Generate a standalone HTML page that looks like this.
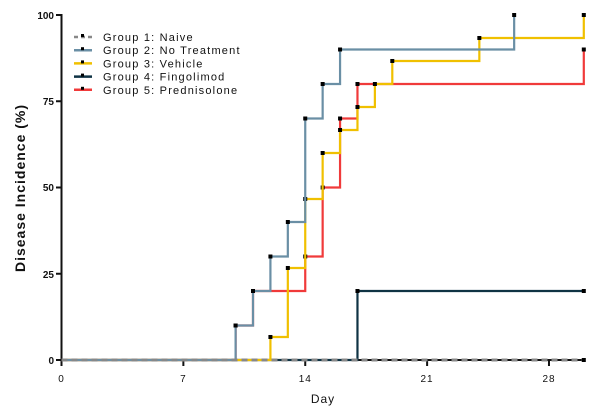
<!DOCTYPE html>
<html><head><meta charset="utf-8"><style>body{margin:0;background:#fff}svg{display:block}text{font-family:"Liberation Sans",Arial,sans-serif}</style></head><body>
<svg id="s" width="600" height="412" xmlns="http://www.w3.org/2000/svg">
<g id="axes" stroke="#111" stroke-width="2" fill="none">
<line x1="61.5" y1="14" x2="61.5" y2="361"/>
<line x1="60.5" y1="360" x2="585" y2="360"/>
</g>
<g id="ticks" stroke="#111" stroke-width="2"></g>
<g font-size="10" font-weight="bold" fill="#111" text-anchor="end">
<text x="54" y="364">0</text><text x="54" y="278">25</text><text x="54" y="191">50</text><text x="54" y="105">75</text><text x="54" y="19">100</text>
</g>
<g font-size="10" fill="#111" text-anchor="middle" letter-spacing="1">
<text x="61.5" y="382">0</text><text x="183.4" y="382">7</text><text x="305.3" y="382">14</text><text x="427" y="382">21</text><text x="549" y="382">28</text>
<text x="323" y="403" font-size="12">Day</text>
</g>
<text transform="translate(25,188) rotate(-90)" font-size="14" font-weight="bold" fill="#111" text-anchor="middle" letter-spacing="1">Disease Incidence (%)</text>
<g id="series" fill="none" stroke-width="2.2"></g>
<g id="legend" font-size="11" fill="#111" letter-spacing="1.2"></g>
</svg>
<script>
const X=d=>61.5+17.41*d, Y=p=>360-3.45*p;
const ns="http://www.w3.org/2000/svg";
function el(t,a,p){const e=document.createElementNS(ns,t);for(const k in a)e.setAttribute(k,a[k]);p.appendChild(e);return e;}
const tk=document.getElementById('ticks');
[0,25,50,75,100].forEach(p=>el('line',{x1:56,x2:61.5,y1:Y(p),y2:Y(p)},tk));
[0,7,14,21,28].forEach(d=>el('line',{x1:X(d),x2:X(d),y1:360,y2:366},tk));
const S=document.getElementById('series');
function step(pts,col,end,dash,w){let d=`M${X(0)},${Y(0)}`,m=[];
 pts.forEach(([t,p])=>{d+=` H${X(t)} V${Y(p)}`;m.push([t,p]);});
 if(end>pts[pts.length-1][0])d+=` H${X(end)}`;
 el('path',{d,stroke:col,'stroke-width':w||2.2,'stroke-dasharray':dash||'none'},S);
 m.forEach(([t,p])=>el('rect',{x:X(t)-2,y:Y(p)-2,width:4,height:4,fill:'#000',stroke:'none'},S));}
step([[17,20],[30,20]],'#0f3344',30);
step([[10,10],[11,20],[14,30],[15,50],[16,70],[17,80],[30,90]],'#f03a3a',30);
step([[12,6.67],[13,26.67],[14,46.67],[15,60],[16,66.67],[17,73.33],[18,80],[19,86.67],[24,93.33],[30,100]],'#f0c000',30);
step([[10,10],[11,20],[12,30],[13,40],[14,70],[15,80],[16,90],[26,100]],'#6a8fa5',26);
step([[30,0]],'#888',30,'6,4',3);
const L=document.getElementById('legend');
[['Group 1: Naive','#888','4,3'],['Group 2: No Treatment','#6a8fa5'],['Group 3: Vehicle','#f0c000'],['Group 4: Fingolimod','#0f3344'],['Group 5: Prednisolone','#f03a3a']].forEach(([t,c,da],i)=>{
 const y=37+i*13.2;
 el('line',{x1:74,x2:92,y1:y,y2:y,stroke:c,'stroke-width':2.5,'stroke-dasharray':da||'none'},L);
 el('rect',{x:81,y:y-3,width:3,height:3,fill:'#000'},L);
 const tx=el('text',{x:103,y:y+4},L);tx.textContent=t;});
</script>
</body></html>
